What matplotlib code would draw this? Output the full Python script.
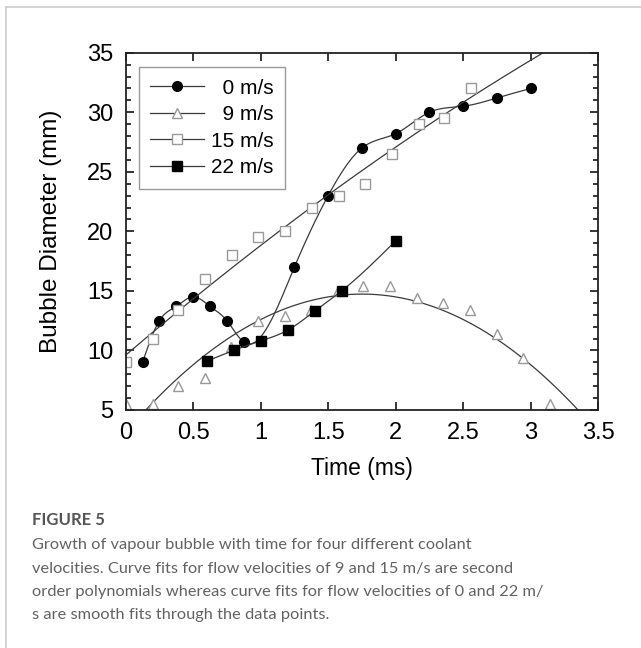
import matplotlib
matplotlib.use('Agg')
import matplotlib.pyplot as plt
import numpy as np
from matplotlib.lines import Line2D
from matplotlib.ticker import MultipleLocator

# dane
t0 = [0.125, 0.25, 0.375, 0.5, 0.625, 0.75, 0.875, 1.25, 1.5, 1.75, 2.0, 2.25, 2.5, 2.75, 3.0]
d0 = [9.0, 12.5, 13.7, 14.5, 13.7, 12.5, 10.7, 17.0, 23.0, 27.0, 28.2, 30.0, 30.5, 31.2, 32.0]

t9 = [0.0, 0.2, 0.39, 0.59, 0.78, 0.98, 1.18, 1.37, 1.57, 1.76, 1.96, 2.16, 2.35, 2.55, 2.75, 2.94, 3.14]
d9 = [5.5, 5.5, 7.0, 7.7, 10.3, 12.5, 12.9, 13.4, 15.0, 15.4, 15.4, 14.4, 14.0, 13.4, 11.4, 9.4, 5.5]

t15 = [0.0, 0.2, 0.39, 0.59, 0.79, 0.98, 1.18, 1.38, 1.58, 1.77, 1.97, 2.17, 2.36, 2.56]
d15 = [9.0, 11.0, 13.4, 16.0, 18.0, 19.5, 20.0, 22.0, 23.0, 24.0, 26.5, 29.0, 29.5, 32.0]

t22 = [0.6, 0.8, 1.0, 1.2, 1.4, 1.6, 2.0]
d22 = [9.1, 10.0, 10.8, 11.7, 13.3, 15.0, 19.2]

etykiety = ['  0 m/s', '  9 m/s', '15 m/s', '22 m/s']

podpis_tytul = 'FIGURE 5'
podpis = ['Growth of vapour bubble with time for four different coolant',
          'velocities. Curve fits for flow velocities of 9 and 15 m/s are second',
          'order polynomials whereas curve fits for flow velocities of 0 and 22 m/',
          's are smooth fits through the data points.']


#------------------------------------------------------------------------------
def splajn(x, y, n=300):
    """Naturalny splajn kubiczny przez punkty"""
    x = np.asarray(x, float)
    y = np.asarray(y, float)
    m = len(x)
    h = np.diff(x)
    A = np.zeros((m, m))
    b = np.zeros(m)
    A[0, 0] = 1
    A[-1, -1] = 1
    for i in range(1, m - 1):
        A[i, i - 1] = h[i - 1]
        A[i, i] = 2 * (h[i - 1] + h[i])
        A[i, i + 1] = h[i]
        b[i] = 6 * ((y[i + 1] - y[i]) / h[i] - (y[i] - y[i - 1]) / h[i - 1])
    M = np.linalg.solve(A, b)
    xs = np.linspace(x[0], x[-1], n)
    k = np.clip(np.searchsorted(x, xs) - 1, 0, m - 2)
    dx1 = x[k + 1] - xs
    dx0 = xs - x[k]
    hk = h[k]
    ys = (M[k] * dx1**3 + M[k + 1] * dx0**3) / (6 * hk) \
        + (y[k] / hk - M[k] * hk / 6) * dx1 + (y[k + 1] / hk - M[k + 1] * hk / 6) * dx0
    return xs, ys


plt.rcParams['font.family'] = ['Liberation Sans', 'DejaVu Sans']

fig = plt.figure(figsize=(6.41, 6.48), dpi=100)
ax = fig.add_axes([0.196, 0.3673, 0.7373, 0.5514])

kolor_linii = '#3a3a3a'
szary = '#999999'
lw = 0.9

# 0 m/s
xs, ys = splajn(t0, d0)
ax.plot(xs, ys, color=kolor_linii, lw=lw)
ax.plot(t0, d0, 'o', color='black', ms=7)

# 9 m/s - wielomian 2 stopnia
p9 = np.polyfit(t9, d9, 2)
tt = np.linspace(0, 3.5, 300)
ax.plot(tt, np.polyval(p9, tt), color=kolor_linii, lw=lw)
ax.plot(t9, d9, '^', mfc='white', mec=szary, mew=1.0, ms=7.5)

# 15 m/s - wielomian 2 stopnia
p15 = np.polyfit(t15, d15, 2)
ax.plot(tt, np.polyval(p15, tt), color=kolor_linii, lw=lw)
ax.plot(t15, d15, 's', mfc='white', mec=szary, mew=1.0, ms=6.8)

# 22 m/s
xs, ys = splajn(t22, d22)
ax.plot(xs, ys, color=kolor_linii, lw=lw)
ax.plot(t22, d22, 's', color='black', ms=6.8)

ax.set_xlim(0, 3.5)
ax.set_ylim(5, 35)
ax.xaxis.set_major_locator(MultipleLocator(0.5))
ax.yaxis.set_major_locator(MultipleLocator(5))
ax.yaxis.set_minor_locator(MultipleLocator(1))
ax.set_xticks([0, 0.5, 1, 1.5, 2, 2.5, 3, 3.5], ['0', '0.5', '1', '1.5', '2', '2.5', '3', '3.5'])
ax.tick_params(which='both', direction='in', top=True, right=True, labelsize=17, width=1.1)
ax.tick_params(which='major', length=6, pad=9)
ax.tick_params(which='minor', length=3.5)
for s in ax.spines.values():
    s.set_linewidth(1.3)
    s.set_color('#222222')

ax.set_xlabel('Time (ms)', fontsize=16.5, labelpad=9)
ax.set_ylabel('Bubble Diameter (mm)', fontsize=17.5, labelpad=18)

uchwyty = [
    Line2D([], [], color=kolor_linii, lw=lw, marker='o', mfc='black', mec='black', ms=7),
    Line2D([], [], color=kolor_linii, lw=lw, marker='^', mfc='white', mec=szary, ms=7.5),
    Line2D([], [], color=kolor_linii, lw=lw, marker='s', mfc='white', mec=szary, ms=6.8),
    Line2D([], [], color=kolor_linii, lw=lw, marker='s', mfc='black', mec='black', ms=6.8),
]
leg = ax.legend(uchwyty, etykiety, loc='upper left', bbox_to_anchor=(0.028, 0.959),
                borderaxespad=0, fancybox=False, framealpha=1, edgecolor=szary,
                fontsize=15, handlelength=2.6, handletextpad=0.3, labelspacing=0.36,
                borderpad=0.55)
leg.get_frame().set_linewidth(1.0)

# ramka strony
fig.add_artist(Line2D([6 / 641, 1], [1 - 7 / 648, 1 - 7 / 648], transform=fig.transFigure,
                      color='#cccccc', lw=1.2))
fig.add_artist(Line2D([6 / 641, 6 / 641], [0, 1 - 7 / 648], transform=fig.transFigure,
                      color='#cccccc', lw=1.2))

# podpis
fig.text(32 / 641, 1 - 520 / 648, podpis_tytul, fontsize=12, fontweight='bold',
         color='#555555', family='Lato', va='center')
for i, linia in enumerate(podpis):
    fig.text(32 / 641, 1 - (545 + 23.5 * i) / 648, linia, fontsize=11.8,
             color='#626262', family='Lato', va='center')

fig.savefig('out.png', dpi=100)
